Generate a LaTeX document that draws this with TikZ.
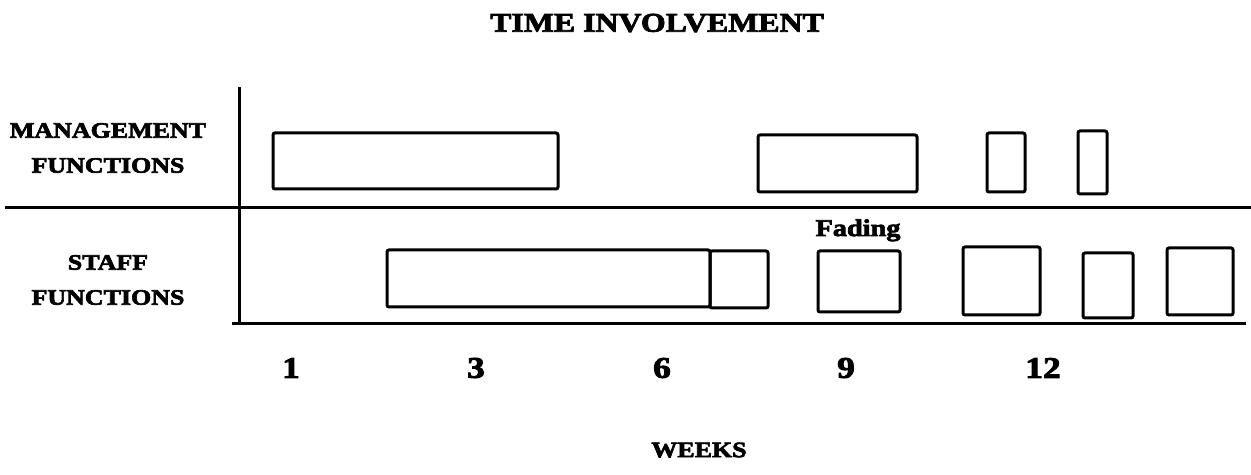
\documentclass[tikz,border=0pt]{standalone}
\usepackage{fontspec}
\newfontfamily\heavyfont{Liberation Serif}[FakeStretch=1.18,BoldFeatures={FakeBold=3}]

\tikzset{
  rowtext/.style={font=\heavyfont\bfseries\fontsize{11}{17.5}\selectfont,align=center,inner sep=0pt},
  weektext/.style={font=\heavyfont\bfseries\fontsize{15}{17}\selectfont,inner sep=0pt},
  bar/.style={draw,line width=1.5pt,rounded corners=1pt},
  rule/.style={line width=1.5pt}
}

\begin{document}
\begin{tikzpicture}[x=0.5pt,y=-0.5pt]
\useasboundingbox (0,0) rectangle (1251,475);
\path (657,23) node[rowtext,font=\heavyfont\bfseries\fontsize{13.5}{16}\selectfont] (title) {TIME INVOLVEMENT};

\path (108,148) node[rowtext] (mgmt) {MANAGEMENT\\FUNCTIONS};
\path (108,280) node[rowtext] (staff) {STAFF\\FUNCTIONS};

\draw[rule] (239,87) -- (239,323);
\draw[rule] (5,208) -- (1251,208);
\draw[rule] (232,324) -- (1246,324);

\draw[bar] (273,133) rectangle (558,189);
\draw[bar] (758,135) rectangle (917,192);
\draw[bar] (987,133) rectangle (1025,192);
\draw[bar] (1078,131) rectangle (1107,194);

\draw[bar] (387,250) rectangle (710,307);
\draw[bar] (710,251) rectangle (768,308);
\draw[bar] (818,251) rectangle (900,312);
\draw[bar] (963,247) rectangle (1040,315);
\draw[bar] (1083,253) rectangle (1133,318);
\draw[bar] (1167,248) rectangle (1233,315);
\path (858,236) node[rowtext,anchor=base,font=\heavyfont\bfseries\fontsize{12}{14}\selectfont] (fading) {Fading};

\path (291,368) node[weektext] (w1) {1};
\path (476,368) node[weektext] (w3) {3};
\path (662,368) node[weektext] (w6) {6};
\path (846,368) node[weektext] (w9) {9};
\path (1043,368) node[weektext] (w12) {12};
\path (699,450) node[rowtext] (weeks) {WEEKS};
\end{tikzpicture}
\end{document}
